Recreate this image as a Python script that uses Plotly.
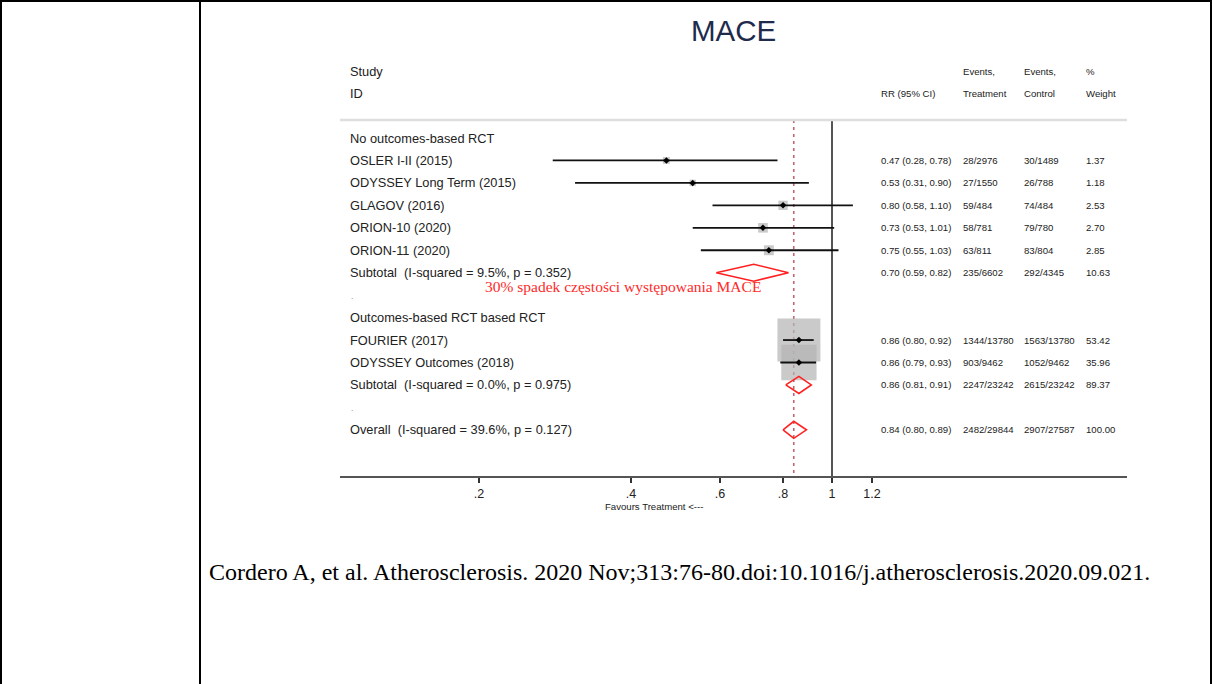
import plotly.graph_objects as go
import math

# ---------------- data ----------------
group_titles = ["No outcomes-based RCT", "Outcomes-based RCT based RCT"]
studies = ["OSLER I-II (2015)", "ODYSSEY Long Term (2015)", "GLAGOV (2016)",
           "ORION-10 (2020)", "ORION-11 (2020)",
           "FOURIER (2017)", "ODYSSEY Outcomes (2018)"]
study_group = [0, 0, 0, 0, 0, 1, 1]
rr = [0.47, 0.53, 0.80, 0.73, 0.75, 0.86, 0.86]
rr_lo = [0.28, 0.31, 0.58, 0.53, 0.55, 0.80, 0.79]
rr_hi = [0.78, 0.90, 1.10, 1.01, 1.03, 0.92, 0.93]
events_treat = ["28/2976", "27/1550", "59/484", "58/781", "63/811", "1344/13780", "903/9462"]
events_ctrl = ["30/1489", "26/788", "74/484", "79/780", "83/804", "1563/13780", "1052/9462"]
weights = [1.37, 1.18, 2.53, 2.70, 2.85, 53.42, 35.96]

sub_labels = ["Subtotal  (I-squared = 9.5%, p = 0.352)",
              "Subtotal  (I-squared = 0.0%, p = 0.975)"]
sub_rr = [0.70, 0.86]
sub_lo = [0.59, 0.81]
sub_hi = [0.82, 0.91]
sub_ev_t = ["235/6602", "2247/23242"]
sub_ev_c = ["292/4345", "2615/23242"]
sub_w = ["10.63", "89.37"]

overall_label = "Overall  (I-squared = 39.6%, p = 0.127)"
overall_rr, overall_lo, overall_hi = 0.84, 0.80, 0.89
overall_ev_t, overall_ev_c, overall_w = "2482/29844", "2907/27587", "100.00"

xtick_vals = [0.2, 0.4, 0.6, 0.8, 1.0, 1.2]
xtick_text = [".2", ".4", ".6", ".8", "1", "1.2"]

title_text = "MACE"
note_text = "30% spadek częstości występowania MACE"
citation = "Cordero A, et al. Atherosclerosis. 2020 Nov;313:76-80.doi:10.1016/j.atherosclerosis.2020.09.021."

# ---------------- layout helpers ----------------
W, H = 1212, 684
ROW0_PX, ROW_H = 138.0, 22.45
PLOT_TOP_PX, AXIS_PX = 60.0, 476.0
X_LEFT_PX, X_RIGHT_PX = 340.0, 1127.0
LOG_LEFT, LOG_RIGHT = -0.974, 0.584


def px_x(p):
    return p / W


def px_y(p):
    return 1 - p / H


def row_of_px(p):
    return (p - ROW0_PX) / ROW_H


# assign rows
rows_study = []
rows_header = []
rows_sub = []
rows_dot = []
r = 0
for g in range(len(group_titles)):
    rows_header.append(r)
    r += 1
    for i, sg in enumerate(study_group):
        if sg == g:
            rows_study.append(r)
            r += 1
    rows_sub.append(r)
    r += 1
    rows_dot.append(r)
    r += 1
row_overall = r

fig = go.Figure()

# weight boxes
box_k = 5.88
fig.add_trace(go.Scatter(
    x=rr, y=rows_study, mode="markers",
    marker=dict(symbol="square", size=[box_k * math.sqrt(w) for w in weights],
                color="#b4b4b4", line=dict(width=0)),
    hoverinfo="skip", showlegend=False))

# CI lines
cx, cy = [], []
for lo, hi, yy in zip(rr_lo, rr_hi, rows_study):
    cx += [lo, hi, None]
    cy += [yy, yy, None]
fig.add_trace(go.Scatter(x=cx, y=cy, mode="lines", line=dict(color="#111111", width=1.8),
                         hoverinfo="skip", showlegend=False))

# point estimates
fig.add_trace(go.Scatter(x=rr, y=rows_study, mode="markers",
                         marker=dict(symbol="diamond", size=5, color="#000000"),
                         hoverinfo="skip", showlegend=False))

# diamonds (subtotals + overall)
dh = 8.5 / ROW_H
all_lo = sub_lo + [overall_lo]
all_rr = sub_rr + [overall_rr]
all_hi = sub_hi + [overall_hi]
all_rows = rows_sub + [row_overall]
dx, dy = [], []
for lo, m, hi, yy in zip(all_lo, all_rr, all_hi, all_rows):
    dx += [lo, m, hi, m, lo, None]
    dy += [yy, yy - dh, yy, yy + dh, yy, None]
fig.add_trace(go.Scatter(x=dx, y=dy, mode="lines", line=dict(color="#ff2020", width=1.6),
                         hoverinfo="skip", showlegend=False))

shapes = []
sep_row = row_of_px(120)
axis_row = row_of_px(AXIS_PX)
# null line
shapes.append(dict(type="line", xref="x", yref="y", x0=1, x1=1, y0=sep_row, y1=axis_row,
                   line=dict(color="#555555", width=2), layer="below"))
# overall dashed line
shapes.append(dict(type="line", xref="x", yref="y", x0=overall_rr, x1=overall_rr,
                   y0=sep_row, y1=axis_row,
                   line=dict(color="#c4646e", width=1.6, dash="3px,4px"), layer="below"))
# header separator
shapes.append(dict(type="line", xref="paper", yref="paper",
                   x0=px_x(X_LEFT_PX), x1=px_x(X_RIGHT_PX), y0=px_y(120), y1=px_y(120),
                   line=dict(color="#dedede", width=2.5)))
# slide table borders
for xp in [1, 200, 1211]:
    shapes.append(dict(type="line", xref="paper", yref="paper", x0=px_x(xp), x1=px_x(xp),
                       y0=0, y1=1, line=dict(color="#000000", width=2)))
shapes.append(dict(type="line", xref="paper", yref="paper", x0=0, x1=1,
                   y0=px_y(1), y1=px_y(1), line=dict(color="#000000", width=2)))

ann = []
SANS = "Liberation Sans, Arial, Helvetica, sans-serif"
SERIF = "Liberation Serif, Times New Roman, serif"
BIG = 12.8
SMALL = 9.6


def txt(text, xpx, yrow, size=BIG, color="#222222", family=SANS, xanchor="left"):
    ann.append(dict(text=text, xref="paper", yref="y", x=px_x(xpx), y=yrow,
                    xanchor=xanchor, yanchor="middle", showarrow=False, borderpad=0,
                    font=dict(size=size, color=color, family=family)))


LABEL_X = 349
COL_RR, COL_ET, COL_EC, COL_W = 880, 962, 1023, 1085

# headers
txt("Study", LABEL_X, row_of_px(71))
txt("ID", LABEL_X, row_of_px(93))
txt("RR (95% CI)", COL_RR, row_of_px(93), SMALL)
txt("Events,", COL_ET, row_of_px(71), SMALL)
txt("Treatment", COL_ET, row_of_px(93), SMALL)
txt("Events,", COL_EC, row_of_px(71), SMALL)
txt("Control", COL_EC, row_of_px(93), SMALL)
txt("%", COL_W, row_of_px(71), SMALL)
txt("Weight", COL_W, row_of_px(93), SMALL)

for g, t in enumerate(group_titles):
    txt(t, LABEL_X, rows_header[g])
for i, s in enumerate(studies):
    yy = rows_study[i]
    txt(s, LABEL_X, yy)
    txt(f"{rr[i]:.2f} ({rr_lo[i]:.2f}, {rr_hi[i]:.2f})", COL_RR, yy, SMALL)
    txt(events_treat[i], COL_ET, yy, SMALL)
    txt(events_ctrl[i], COL_EC, yy, SMALL)
    txt(f"{weights[i]:.2f}", COL_W, yy, SMALL)
for g in range(len(sub_labels)):
    yy = rows_sub[g]
    txt(sub_labels[g], LABEL_X, yy)
    txt(f"{sub_rr[g]:.2f} ({sub_lo[g]:.2f}, {sub_hi[g]:.2f})", COL_RR, yy, SMALL)
    txt(sub_ev_t[g], COL_ET, yy, SMALL)
    txt(sub_ev_c[g], COL_EC, yy, SMALL)
    txt(sub_w[g], COL_W, yy, SMALL)
    txt(".", LABEL_X + 1, rows_dot[g] + 0.05, 8, "#666666")
txt(overall_label, LABEL_X, row_overall)
txt(f"{overall_rr:.2f} ({overall_lo:.2f}, {overall_hi:.2f})", COL_RR, row_overall, SMALL)
txt(overall_ev_t, COL_ET, row_overall, SMALL)
txt(overall_ev_c, COL_EC, row_overall, SMALL)
txt(overall_w, COL_W, row_overall, SMALL)

# red note
txt(note_text, 484, row_of_px(286), 15.5, "#ff2a2a", SERIF)

# axis title
ann.append(dict(text="Favours Treatment <---", xref="paper", yref="paper",
                x=px_x(654), y=px_y(506), xanchor="center", yanchor="middle",
                showarrow=False, font=dict(size=9.6, color="#222222", family=SANS)))
# title
ann.append(dict(text=title_text, xref="paper", yref="paper", x=px_x(733), y=px_y(30),
                xanchor="center", yanchor="middle", showarrow=False,
                font=dict(size=29.5, color="#1f2b4d", family=SANS)))
# citation
ann.append(dict(text=citation, xref="paper", yref="paper", x=px_x(207), y=px_y(572),
                xanchor="left", yanchor="middle", showarrow=False,
                font=dict(size=24, color="#000000", family=SERIF)))

fig.update_layout(
    width=W, height=H, margin=dict(l=0, r=0, t=0, b=0, pad=0),
    paper_bgcolor="white", plot_bgcolor="white",
    shapes=shapes, annotations=ann, showlegend=False,
    xaxis=dict(type="log", domain=[px_x(X_LEFT_PX), px_x(X_RIGHT_PX)],
               range=[LOG_LEFT, LOG_RIGHT], showgrid=False, zeroline=False,
               showline=True, linecolor="#555555", linewidth=2,
               ticks="outside", ticklen=5, tickwidth=1.5, tickcolor="#333333",
               tickvals=xtick_vals, ticktext=xtick_text,
               tickfont=dict(size=12.5, color="#222222", family=SANS)),
    yaxis=dict(domain=[px_y(AXIS_PX), px_y(PLOT_TOP_PX)],
               range=[row_of_px(AXIS_PX), row_of_px(PLOT_TOP_PX)],
               visible=False, showgrid=False, zeroline=False),
)

fig.write_html("out.html", config={"displayModeBar": False},
               post_script="document.body.style.margin='0';document.body.style.overflow='hidden';")
